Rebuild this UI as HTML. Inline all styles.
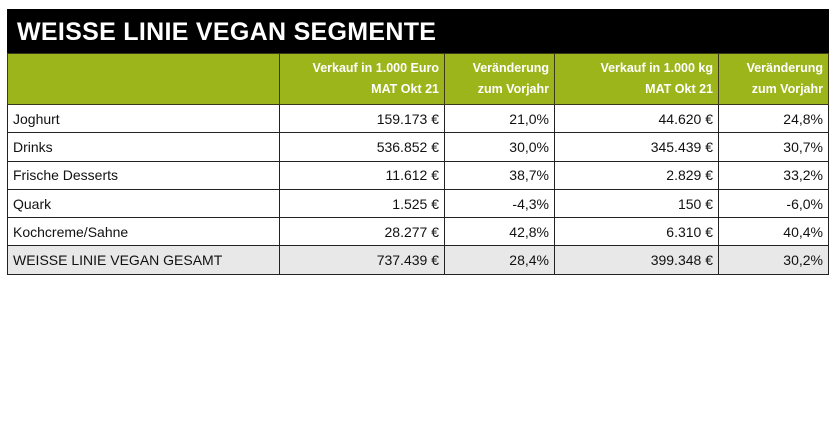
<!DOCTYPE html>
<html><head><meta charset="utf-8"><style>
body{margin:0;width:840px;height:440px;background:#fff;font-family:"Liberation Sans",sans-serif;position:relative;overflow:hidden}
#title{position:absolute;left:7px;top:9px;width:822px;height:44px;background:#000;color:#fff;font-weight:bold;font-size:25px;line-height:46px;box-sizing:border-box;padding-left:10px;letter-spacing:0.3px}
table{position:absolute;left:7px;top:53px;border-collapse:collapse;table-layout:fixed}
td{border:1.5px solid #222;font-size:14px;color:#111;height:27.3px;padding:0 5px;text-align:right;white-space:nowrap;overflow:hidden}
td:first-child{text-align:left}
tr.h td{background:#9cb51b;color:#fff;font-weight:bold;font-size:12.5px;height:50px;line-height:21px;border-color:#3a3a1a}
tr.t td{background:#e8e8e8}
</style></head><body>
<div id="title">WEISSE LINIE VEGAN SEGMENTE</div>
<table>
<colgroup><col style="width:272px"><col style="width:165px"><col style="width:110px"><col style="width:164px"><col style="width:110px"></colgroup>
<tr class="h"><td></td><td>Verkauf in 1.000 Euro<br>MAT Okt 21</td><td>Veränderung<br>zum Vorjahr</td><td>Verkauf in 1.000 kg<br>MAT Okt 21</td><td>Veränderung<br>zum Vorjahr</td></tr>
<tr><td>Joghurt</td><td>159.173 €</td><td>21,0%</td><td>44.620 €</td><td>24,8%</td></tr>
<tr><td>Drinks</td><td>536.852 €</td><td>30,0%</td><td>345.439 €</td><td>30,7%</td></tr>
<tr><td>Frische Desserts</td><td>11.612 €</td><td>38,7%</td><td>2.829 €</td><td>33,2%</td></tr>
<tr><td>Quark</td><td>1.525 €</td><td>-4,3%</td><td>150 €</td><td>-6,0%</td></tr>
<tr><td>Kochcreme/Sahne</td><td>28.277 €</td><td>42,8%</td><td>6.310 €</td><td>40,4%</td></tr>
<tr class="t"><td>WEISSE LINIE VEGAN GESAMT</td><td>737.439 €</td><td>28,4%</td><td>399.348 €</td><td>30,2%</td></tr>
</table>
</body></html>
